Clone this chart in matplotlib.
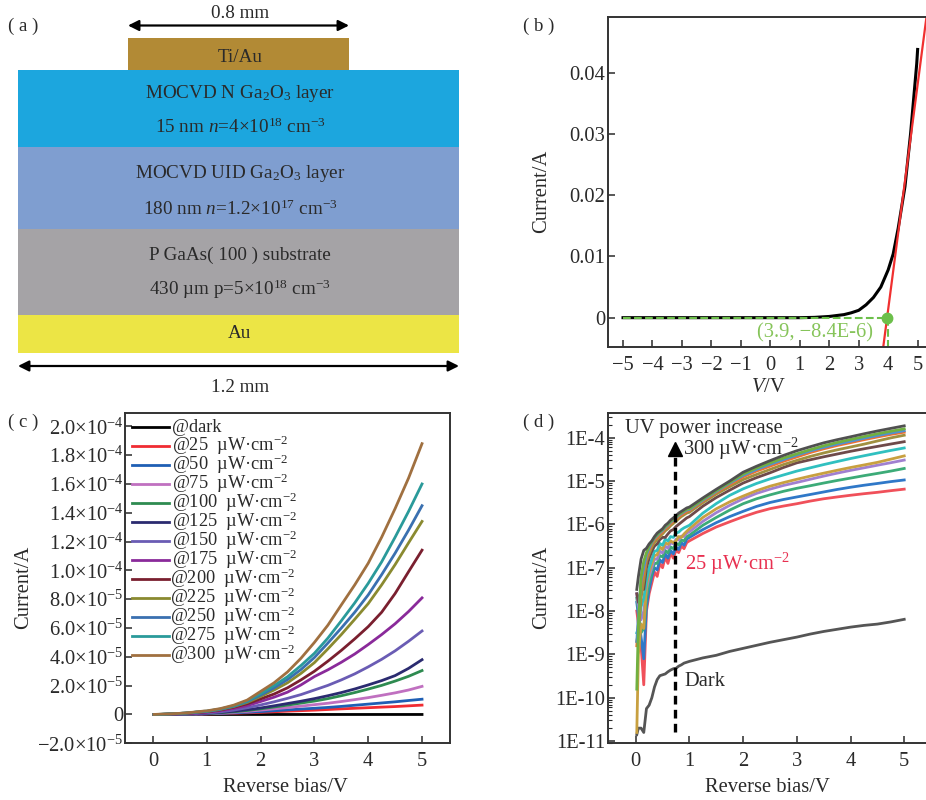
import numpy as np
import matplotlib
matplotlib.use("Agg")
import matplotlib.pyplot as plt
from matplotlib.patches import Rectangle
from matplotlib.ticker import LogLocator, NullFormatter

plt.rcParams['font.family'] = ['Liberation Serif', 'DejaVu Serif']
plt.rcParams['mathtext.fontset'] = 'custom'
plt.rcParams['mathtext.rm'] = 'Liberation Serif'
plt.rcParams['mathtext.it'] = 'Liberation Serif:italic'
plt.rcParams['mathtext.default'] = 'regular'

W, H = 926, 800
TXT = '#2a2a2a'
FS = 14.8
FS_A = 13.8
FS_L = 13.2

# panel a: stack of layers
layer_names = ['N', 'UID', 'GaAs', 'Au']
layer_top = [70, 147, 229, 315]
layer_bot = [147, 229, 315, 353]
layer_colors = ['#1ca6de', '#7f9ed0', '#a5a3a6', '#ece545']
layer_text = [
    ['MOCVD N Ga$_2$O$_3$ layer', '15 nm $\\mathit{n}$=4×10$^{18}$ cm$^{-3}$'],
    ['MOCVD UID Ga$_2$O$_3$ layer', '180 nm $\\mathit{n}$=1.2×10$^{17}$ cm$^{-3}$'],
    ['P GaAs( 100 ) substrate', '430 µm p=5×10$^{18}$ cm$^{-3}$'],
    ['Au'],
]
layer_text_y = [[93, 127], [174, 209], [255, 289], [334]]

# panel b
b_v = [-5, -4, -3, -2, -1, 0, 1, 1.5, 2, 2.5, 2.75, 3, 3.25, 3.5, 3.75, 4, 4.17, 4.34, 4.57, 4.76, 4.97, 5]
b_i = [0, 0, 0, 0, 0, 0, 0, 0.00005, 0.0002, 0.0005, 0.0008, 0.0012, 0.0021, 0.0033, 0.0050, 0.0078,
       0.0104, 0.0146, 0.0214, 0.0300, 0.0415, 0.0438]
fit_v = [3.83, 5.30]
fit_i = [-0.0049, 0.0491]
knee_v = 3.95
knee_i = 0.0

# panels c and d share the sweep, stored as log10(current)
bias = [0.02, 0.05, 0.1, 0.15, 0.2, 0.25, 0.3, 0.35, 0.4, 0.45, 0.5, 0.55, 0.6, 0.65, 0.7, 0.75, 0.8,
        0.85, 0.9, 0.95, 1, 1.25, 1.5, 1.75, 2, 2.25, 2.5, 2.75, 3, 3.25, 3.5, 3.75, 4, 4.25, 4.5, 4.75, 5]
log_dark = [-10.85, -10.7, -10.7, -10.8, -10.25, -10.17, -10.0, -9.75, -9.58, -9.49, -9.47, -9.45, -9.4,
            -9.36, -9.33, -9.32, -9.27, -9.24, -9.2, -9.18, -9.16, -9.08, -9.02, -8.93, -8.86, -8.79, -8.72,
            -8.66, -8.6, -8.53, -8.47, -8.42, -8.37, -8.33, -8.3, -8.25, -8.19]
log_25 = [-8.0, -8.3, -8.8, -9.7, -8.0, -7.6, -7.35, -7.1, -7.2, -6.9, -7.0, -6.75, -6.9, -6.65, -6.78, -6.6,
          -6.65, -6.5, -6.56, -6.42, -6.38, -6.21, -6.06, -5.94, -5.824, -5.721, -5.638, -5.577, -5.523, -5.462,
          -5.409, -5.367, -5.328, -5.292, -5.26, -5.222, -5.187]
log_50 = [-7.8, -8.1, -8.6, -9.1, -7.9, -7.5, -7.2, -7.0, -7.05, -6.82, -6.88, -6.68, -6.78, -6.6, -6.68, -6.52,
          -6.58, -6.42, -6.48, -6.34, -6.3, -6.12, -5.96, -5.82, -5.699, -5.585, -5.495, -5.426, -5.367, -5.31,
          -5.252, -5.194, -5.143, -5.097, -5.056, -5.013, -4.975]
log_75 = [-7.7, -8.0, -8.5, -8.4, -7.7, -7.35, -7.1, -6.9, -6.9, -6.72, -6.75, -6.6, -6.66, -6.52, -6.56, -6.44,
          -6.47, -6.36, -6.38, -6.28, -6.25, -6.02, -5.84, -5.67, -5.523, -5.409, -5.319, -5.237, -5.167, -5.108,
          -5.046, -4.987, -4.932, -4.876, -4.824, -4.77, -4.71]
log_100 = [-7.6, -7.9, -8.2, -8.0, -7.5, -7.2, -7.0, -6.8, -6.8, -6.62, -6.66, -6.5, -6.55, -6.42, -6.45, -6.34,
           -6.36, -6.27, -6.28, -6.2, -6.17, -5.93, -5.73, -5.56, -5.409, -5.284, -5.187, -5.102, -5.032, -4.959,
           -4.886, -4.818, -4.754, -4.695, -4.635, -4.577, -4.516]
log_125 = [-10.8, -9.0, -8.3, -8.4, -7.4, -7.1, -6.9, -6.72, -6.7, -6.52, -6.58, -6.42, -6.46, -6.38, -6.42, -6.38,
           -6.28, -6.3, -6.22, -6.16, -6.1, -5.84, -5.64, -5.48, -5.347, -5.222, -5.119, -5.036, -4.959, -4.886,
           -4.818, -4.752, -4.688, -4.629, -4.569, -4.495, -4.42]
log_150 = [-8.5, -8.4, -7.9, -7.7, -7.3, -7.0, -6.8, -6.62, -6.6, -6.44, -6.48, -6.34, -6.38, -6.28, -6.3, -6.2,
           -6.18, -6.12, -6.08, -6.05, -6.02, -5.74, -5.52, -5.33, -5.18, -5.056, -4.951, -4.86, -4.77, -4.695,
           -4.62, -4.55, -4.481, -4.417, -4.355, -4.294, -4.237]
log_175 = [-7.6, -7.8, -7.5, -7.5, -7.0, -6.78, -6.62, -6.5, -6.45, -6.35, -6.3, -6.3, -6.22, -6.15, -6.12, -6.05,
           -6.0, -5.95, -5.9, -5.85, -5.82, -5.58, -5.38, -5.21, -5.046, -4.921, -4.81, -4.688, -4.58, -4.509,
           -4.441, -4.377, -4.314, -4.256, -4.201, -4.146, -4.092]
log_200 = [-8.7, -8.5, -7.7, -7.3, -6.85, -6.68, -6.52, -6.42, -6.35, -6.28, -6.22, -6.15, -6.1, -6.03, -5.98, -5.93,
           -5.87, -5.82, -5.78, -5.74, -5.72, -5.5, -5.3, -5.13, -4.967, -4.848, -4.733, -4.62, -4.523, -4.432,
           -4.352, -4.28, -4.215, -4.149, -4.076, -4.004, -3.943]
log_225 = [-8.8, -8.3, -7.4, -7.1, -6.75, -6.6, -6.45, -6.35, -6.3, -6.22, -6.17, -6.1, -6.05, -5.98, -5.93, -5.88,
           -5.82, -5.78, -5.74, -5.7, -5.68, -5.46, -5.26, -5.08, -4.903, -4.77, -4.658, -4.545, -4.444, -4.342,
           -4.256, -4.18, -4.114, -4.046, -3.983, -3.924, -3.873]
log_250 = [-8.7, -8.1, -7.3, -7.0, -6.7, -6.55, -6.42, -6.32, -6.26, -6.19, -6.14, -6.07, -6.02, -5.95, -5.9, -5.85,
           -5.79, -5.75, -5.71, -5.67, -5.66, -5.44, -5.24, -5.05, -4.87, -4.733, -4.616, -4.506, -4.403, -4.305,
           -4.222, -4.149, -4.081, -4.013, -3.951, -3.893, -3.839]
log_275 = [-9.8, -8.3, -7.2, -6.85, -6.65, -6.5, -6.4, -6.3, -6.24, -6.17, -6.12, -6.05, -6.0, -5.93, -5.88, -5.83,
           -5.77, -5.73, -5.69, -5.65, -5.64, -5.42, -5.22, -5.03, -4.839, -4.699, -4.582, -4.469, -4.372, -4.276,
           -4.187, -4.111, -4.041, -3.975, -3.91, -3.851, -3.796]
log_300 = [-7.5, -7.2, -6.8, -6.6, -6.55, -6.45, -6.38, -6.28, -6.2, -6.15, -6.1, -6.02, -5.97, -5.9, -5.85, -5.8,
           -5.74, -5.7, -5.66, -5.62, -5.6, -5.39, -5.19, -5.0, -4.796, -4.658, -4.53, -4.409, -4.301, -4.208,
           -4.119, -4.046, -3.979, -3.91, -3.845, -3.785, -3.726]

series = [log_dark, log_25, log_50, log_75, log_100, log_125, log_150, log_175, log_200, log_225,
          log_250, log_275, log_300]
labels = ['@dark'] + ['@%d  µW·cm$^{-2}$' % p for p in range(25, 301, 25)]
colors_c = ['#000000', '#f02c32', '#1f5fb4', '#c070c0', '#2e8b50', '#2b2b70', '#6a5cb4', '#8a2a9a',
            '#7a1f2f', '#8a8a30', '#3a70b0', '#2a9a9a', '#a07040']
colors_d = ['#555555', '#f0505a', '#2f78c8', '#3cab78', '#a080d0', '#c8a040', '#30c0c0', '#6e4a4a',
            '#a09040', '#f07030', '#5090d0', '#70b040', '#505050']
legend_y = [427.3, 446.3, 465.3, 484.3, 503.3, 522.3, 541.3, 560.3, 579.3, 598, 616.7, 635.7, 654.7]

c_ticks = [-2e-5, 0, 2e-5, 4e-5, 6e-5, 8e-5, 1e-4, 1.2e-4, 1.4e-4, 1.6e-4, 1.8e-4, 2e-4]
c_ticklabels = ['−2.0×10$^{-5}$', '0', '2.0×10$^{-5}$', '4.0×10$^{-5}$', '6.0×10$^{-5}$', '8.0×10$^{-5}$',
                '1.0×10$^{-4}$', '1.2×10$^{-4}$', '1.4×10$^{-4}$', '1.6×10$^{-4}$', '1.8×10$^{-4}$',
                '2.0×10$^{-4}$']
d_ticks = [1e-11, 1e-10, 1e-9, 1e-8, 1e-7, 1e-6, 1e-5, 1e-4]
d_ticklabels = ['1E-11', '1E-10', '1E-9', '1E-8', '1E-7', '1E-6', '1E-5', '1E-4']


def px_axes(fig, l, t, r, b):
    return fig.add_axes([l / W, 1 - b / H, (r - l) / W, (b - t) / H])


def style(ax, right=True):
    for s in ax.spines.values():
        s.set_linewidth(1.4)
        s.set_color('#333333')
    ax.spines['right'].set_visible(right)
    ax.tick_params(direction='in', length=5, width=1.1, labelsize=FS, colors=TXT)
    ax.tick_params(axis='x', pad=6)
    ax.tick_params(axis='y', pad=2)


def axis_labels(ax, xlab, xx, xy, ylab, yx, yy):
    ax.set_xlabel(xlab, fontsize=FS, color=TXT, va='center')
    ax.set_ylabel(ylab, fontsize=FS, color=TXT, va='center')
    ax.xaxis.set_label_coords(xx / W, 1 - xy / H, transform=fig.transFigure)
    ax.yaxis.set_label_coords(yx / W, 1 - yy / H, transform=fig.transFigure)


fig = plt.figure(figsize=(W / 100, H / 100), dpi=100)

# (a) drawn in a full figure axes working in pixels
bg = fig.add_axes([0, 0, 1, 1])
bg.set_xlim(0, W)
bg.set_ylim(H, 0)
bg.axis('off')
bg.add_patch(Rectangle((128, 38), 221, 32, color='#b28a35', lw=0))
bg.text(240, 57, 'Ti/Au', ha='center', va='center', fontsize=FS_A, color=TXT)
for name, top, bot, col, lines, ys in zip(layer_names, layer_top, layer_bot, layer_colors, layer_text, layer_text_y):
    bg.add_patch(Rectangle((18, top), 441, bot - top, color=col, lw=0))
    for line, y in zip(lines, ys):
        bg.text(240, y, line, ha='center', va='center', fontsize=FS_A, color=TXT)
bg.annotate('', xy=(128, 25.5), xytext=(349, 25.5),
            arrowprops=dict(arrowstyle='<|-|>', color='black', lw=1.6, shrinkA=0, shrinkB=0, mutation_scale=16))
bg.annotate('', xy=(18, 366), xytext=(459, 366),
            arrowprops=dict(arrowstyle='<|-|>', color='black', lw=1.6, shrinkA=0, shrinkB=0, mutation_scale=16))
bg.text(240, 14, '0.8 mm', ha='center', va='center', fontsize=FS_A, color=TXT)
bg.text(240, 388, '1.2 mm', ha='center', va='center', fontsize=FS_A, color=TXT)
for tag, x, y in [('( a )', 23, 26), ('( b )', 539, 26), ('( c )', 23, 422), ('( d )', 539, 422)]:
    bg.text(x, y, tag, ha='center', va='center', fontsize=13.5, color=TXT)

# (b)
ax = px_axes(fig, 608, 17, 930, 347.5)
ax.set_xlim(-5.51, 5.42)
ax.set_ylim(-0.00487, 0.0491)
ax.plot(b_v, b_i, color='black', lw=2.2)
ax.plot(fit_v, fit_i, color='#f03030', lw=1.6)
ax.plot([-5, knee_v], [knee_i, knee_i], color='#6cbf4a', lw=1.5, ls='--')
ax.plot([knee_v + 0.03, knee_v + 0.03], [knee_i, -0.00487], color='#6cbf4a', lw=1.5, ls='--')
ax.plot([knee_v], [knee_i], 'o', color='#6cbf4a', ms=7.5)
ax.text(-0.45, -0.0024, '(3.9, −8.4E-6)', color='#86c45a', fontsize=FS, va='center')
ax.set_xticks(range(-5, 6))
ax.set_yticks([0, 0.01, 0.02, 0.03, 0.04])
ax.set_yticklabels(['0', '0.01', '0.02', '0.03', '0.04'])
axis_labels(ax, '$\\mathit{V}$/V', 768, 387, 'Current/A', 542, 191)
style(ax, right=False)

# (c)
ax = px_axes(fig, 125, 413.3, 450, 743.3)
ax.set_xlim(-0.52, 5.52)
ax.set_ylim(-1.94e-5, 2.09e-4)
for vals, lab, col, y, i in zip(series, labels, colors_c, legend_y, range(13)):
    ax.plot(bias, 10.0 ** np.array(vals), color=col, lw=2.0)
    # key rows sit tighter than ax.legend allows with the superscripts
    ax.plot([132, 169], [y, y], color=col, lw=2.0, transform=bg.transData, clip_on=False)
    ax.text(172 if i < 8 else 170, y + 5, lab, fontsize=FS_L, color=TXT, va='baseline', transform=bg.transData)
ax.set_xticks(range(6))
ax.set_yticks(c_ticks)
ax.set_yticklabels(c_ticklabels)
axis_labels(ax, 'Reverse bias/V', 285, 788, 'Current/A', 24, 587)
style(ax)
ax.tick_params(axis='y', pad=1)

# (d)
ax = px_axes(fig, 608, 413.3, 930, 743.3)
ax.set_yscale('log')
ax.set_xlim(-0.516, 5.48)
ax.set_ylim(10 ** -11.05, 10 ** -3.437)
for vals, col in zip(series, colors_d):
    ax.plot(bias, 10.0 ** np.array(vals), color=col, lw=2.0)
ax.plot([0.74, 0.74], [10 ** -10.78, 10 ** -4.36], color='black', lw=2.4, ls=(0, (2.6, 1.6)))
ax.plot([0.74], [10 ** -4.25], '^', color='black', ms=10)
ax.text(-0.2, 10 ** -3.78, 'UV power increase', fontsize=FS, color=TXT, va='center')
ax.text(0.885, 10 ** -4.26, '300 µW·cm$^{-2}$', fontsize=FS, color=TXT, va='center')
ax.text(0.92, 10 ** -6.92, '25 µW·cm$^{-2}$', fontsize=FS, color='#e83050', va='center')
ax.text(0.9, 10 ** -9.62, 'Dark', fontsize=FS, color=TXT, va='center')
ax.set_xticks(range(6))
ax.set_yticks(d_ticks)
ax.set_yticklabels(d_ticklabels)
ax.yaxis.set_minor_locator(LogLocator(base=10, subs=np.arange(2, 10), numticks=20))
ax.yaxis.set_minor_formatter(NullFormatter())
axis_labels(ax, 'Reverse bias/V', 767, 788, 'Current/A', 542, 587)
style(ax, right=False)
ax.tick_params(axis='y', which='minor', direction='in', length=3, width=0.8, colors=TXT)

fig.savefig('out.png', dpi=100)
